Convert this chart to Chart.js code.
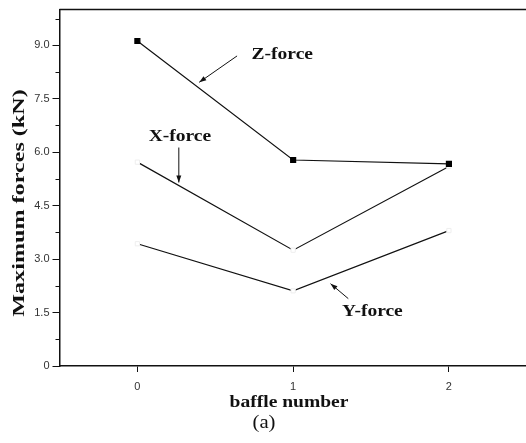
<!DOCTYPE html>
<html>
<head>
<meta charset="utf-8">
<script src="https://cdn.jsdelivr.net/npm/chart.js@4/dist/chart.umd.min.js"></script>
<style>
  html, body { margin: 0; padding: 0; background: #fff; overflow: hidden; }
  #wrap { width: 532px; height: 443px; }
</style>
</head>
<body>
<div id="wrap"><canvas id="c" width="532" height="443"></canvas></div>
<script>
// ---- data ----
const baffleNumbers = [0, 1, 2];
const zForce = [9.12, 5.78, 5.67];
const xForce = [5.72, 3.25, 5.60];
const yForce = [3.43, 2.11, 3.80];
const yTickValues = [0, 1.5, 3.0, 4.5, 6.0, 7.5, 9.0];
const yMinorTickValues = [0.75, 2.25, 3.75, 5.25, 6.75, 8.25, 9.75];
const xTickValues = [0, 1, 2];
const seriesNames = ['Z-force', 'X-force', 'Y-force'];
const xTitle = 'baffle number';
const yTitle = 'Maximum forces (kN)';
const caption = '(a)';

function toPoints(vals) { return baffleNumbers.map((b, i) => ({ x: b, y: vals[i] })); }

// annotation labels/arrows in data coordinates
const annotations = [
  { text: seriesNames[0], at: [0.93, 8.74], arrow: [[0.640, 8.70], [0.397, 7.96]] },
  { text: seriesNames[1], at: [0.273, 6.44], arrow: [[0.266, 6.13], [0.266, 5.15]] },
  { text: seriesNames[2], at: [1.509, 1.53], arrow: [[1.354, 1.89], [1.240, 2.31]] }
];

function stretchedText(ctx, text, x, y, sx, rot) {
  ctx.save();
  ctx.translate(x, y);
  if (rot) ctx.rotate(rot);
  ctx.scale(sx, 1);
  ctx.fillText(text, 0, 0);
  ctx.restore();
}

const decor = {
  id: 'decor',
  afterDraw(chart) {
    const ctx = chart.ctx, xs = chart.scales.x, ys = chart.scales.y, ca = chart.chartArea;
    ctx.save();
    // top border
    ctx.strokeStyle = '#111';
    ctx.lineWidth = 1.5;
    ctx.beginPath();
    ctx.moveTo(ca.left, ca.top);
    ctx.lineTo(ca.right, ca.top);
    ctx.stroke();
    // minor y ticks
    ctx.lineWidth = 1;
    yMinorTickValues.forEach(v => {
      const py = Math.round(ys.getPixelForValue(v)) + 0.5;
      ctx.beginPath();
      ctx.moveTo(ca.left - 4, py);
      ctx.lineTo(ca.left, py);
      ctx.stroke();
    });
    // annotations
    ctx.fillStyle = '#111';
    ctx.font = 'bold 16px "Liberation Serif", "Times New Roman", serif';
    ctx.textAlign = 'center';
    ctx.textBaseline = 'middle';
    annotations.forEach(a => {
      stretchedText(ctx, a.text, xs.getPixelForValue(a.at[0]), ys.getPixelForValue(a.at[1]), 1.22);
      const x1 = xs.getPixelForValue(a.arrow[0][0]), y1 = ys.getPixelForValue(a.arrow[0][1]);
      const x2 = xs.getPixelForValue(a.arrow[1][0]), y2 = ys.getPixelForValue(a.arrow[1][1]);
      ctx.lineWidth = 1;
      ctx.beginPath();
      ctx.moveTo(x1, y1);
      ctx.lineTo(x2, y2);
      ctx.stroke();
      const ang = Math.atan2(y2 - y1, x2 - x1);
      const L = 7, W = 2.5;
      ctx.beginPath();
      ctx.moveTo(x2, y2);
      ctx.lineTo(x2 - L * Math.cos(ang) + W * Math.sin(ang), y2 - L * Math.sin(ang) - W * Math.cos(ang));
      ctx.lineTo(x2 - L * Math.cos(ang) - W * Math.sin(ang), y2 - L * Math.sin(ang) + W * Math.cos(ang));
      ctx.closePath();
      ctx.fill();
    });
    // axis titles
    ctx.font = 'bold 17px "Liberation Serif", "Times New Roman", serif';
    ctx.textBaseline = 'alphabetic';
    stretchedText(ctx, xTitle, 289, 407, 1.15);
    ctx.font = '18px "Liberation Serif", "Times New Roman", serif';
    stretchedText(ctx, caption, 264, 428, 1.15);
    ctx.font = 'bold 17px "Liberation Serif", "Times New Roman", serif';
    stretchedText(ctx, yTitle, 24, 203, 1.42, -Math.PI / 2);
    ctx.restore();
  }
};

const lineCol = '#111';
new Chart(document.getElementById('c'), {
  type: 'scatter',
  data: {
    datasets: [
      { label: seriesNames[0], data: toPoints(zForce), showLine: true, borderColor: lineCol, borderWidth: 1.2,
        pointStyle: 'rect', pointRadius: 3.5, pointBackgroundColor: '#000', pointBorderColor: '#000' },
      { label: seriesNames[1], data: toPoints(xForce), showLine: true, borderColor: lineCol, borderWidth: 1.2,
        pointStyle: 'rect', pointRadius: 3, pointBackgroundColor: '#fff', pointBorderColor: '#eeeeee', pointBorderWidth: 1 },
      { label: seriesNames[2], data: toPoints(yForce), showLine: true, borderColor: lineCol, borderWidth: 1.2,
        pointStyle: 'rect', pointRadius: 3, pointBackgroundColor: '#fff', pointBorderColor: '#eeeeee', pointBorderWidth: 1 }
    ]
  },
  options: {
    responsive: false,
    animation: false,
    layout: { padding: { left: 0, top: 9, right: 0, bottom: 0 } },
    plugins: { legend: { display: false }, tooltip: { enabled: false } },
    scales: {
      x: {
        type: 'linear', min: -0.5, max: 2.5,
        afterBuildTicks: s => { s.ticks = xTickValues.map(v => ({ value: v })); },
        afterFit: s => { s.height = 77; },
        grid: { drawOnChartArea: false, drawTicks: true, tickLength: 6, color: '#111', tickWidth: 1 },
        border: { display: true, color: '#111', width: 1.5 },
        ticks: { padding: 8, color: '#333', font: { family: '"Liberation Sans", Arial, sans-serif', size: 11 },
                 callback: v => String(v) }
      },
      y: {
        type: 'linear', min: 0, max: 10,
        afterBuildTicks: s => { s.ticks = yTickValues.map(v => ({ value: v })); },
        afterFit: s => { s.width = 59.5; },
        grid: { drawOnChartArea: false, drawTicks: true, tickLength: 7, color: '#111', tickWidth: 1 },
        border: { display: true, color: '#111', width: 1.5 },
        ticks: { padding: 3, color: '#333', font: { family: '"Liberation Sans", Arial, sans-serif', size: 11 },
                 callback: v => v === 0 ? '0' : v.toFixed(1) }
      }
    }
  },
  plugins: [decor]
});
</script>
</body>
</html>
